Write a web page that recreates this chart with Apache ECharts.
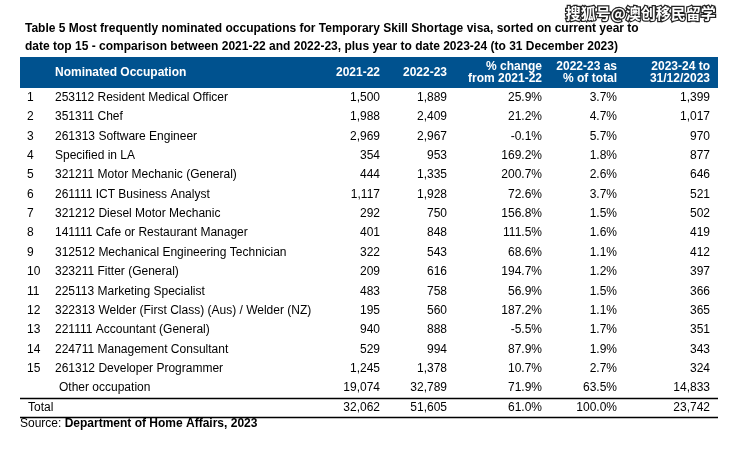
<!DOCTYPE html>
<html>
<head>
<meta charset="utf-8">
<script src="https://cdn.jsdelivr.net/npm/echarts@6/dist/echarts.min.js"></script>
<style>html,body{margin:0;padding:0;background:#fff;}#c{width:733px;height:459px;}</style>
</head>
<body>
<div id="c"></div>
<script>
const titleLines = [
  'Table 5 Most frequently nominated occupations for Temporary Skill Shortage visa, sorted on current year to',
  'date top 15 - comparison between 2021-22 and 2022-23, plus year to date 2023-24 (to 31 December 2023)'
];
const headers = ['Nominated Occupation', '2021-22', '2022-23', '% change\nfrom 2021-22', '2022-23 as\n% of total', '2023-24 to\n31/12/2023'];
const ranks = [1,2,3,4,5,6,7,8,9,10,11,12,13,14,15];
const occupations = [
  '253112 Resident Medical Officer',
  '351311 Chef',
  '261313 Software Engineer',
  'Specified in LA',
  '321211 Motor Mechanic (General)',
  '261111 ICT Business Analyst',
  '321212 Diesel Motor Mechanic',
  '141111 Cafe or Restaurant Manager',
  '312512 Mechanical Engineering Technician',
  '323211 Fitter (General)',
  '225113 Marketing Specialist',
  '322313 Welder (First Class) (Aus) / Welder (NZ)',
  '221111 Accountant (General)',
  '224711 Management Consultant',
  '261312 Developer Programmer'
];
const y2021_22 = [1500,1988,2969,354,444,1117,292,401,322,209,483,195,940,529,1245];
const y2022_23 = [1889,2409,2967,953,1335,1928,750,848,543,616,758,560,888,994,1378];
const pctChange = [25.9,21.2,-0.1,169.2,200.7,72.6,156.8,111.5,68.6,194.7,56.9,187.2,-5.5,87.9,10.7];
const pctOfTotal = [3.7,4.7,5.7,1.8,2.6,3.7,1.5,1.6,1.1,1.2,1.5,1.1,1.7,1.9,2.7];
const ytd2023_24 = [1399,1017,970,877,646,521,502,419,412,397,366,365,351,343,324];
const otherLabel = 'Other occupation';
const otherValues = [19074, 32789, 71.9, 63.5, 14833];
const totalLabel = 'Total';
const totalValues = [32062, 51605, 61.0, 100.0, 23742];
const sourceLabel = 'Source: ';
const sourceText = 'Department of Home Affairs, 2023';
const watermark = '搜狐号@澳创移民留学';

// layout (pixel positions along the hidden 0..733 x axis)
const COL = {rank: 27, name: 55, other: 59, total: 28, c1: 380, c2: 447, c3: 542, c4: 617, c5: 710};
const TABLE_L = 20, TABLE_R = 718;
const FONT = '"Liberation Sans", Arial, sans-serif';
const BLUE = '#00528F';

const fmtN = v => v.toLocaleString('en-US');
const fmtP = v => v.toFixed(1) + '%';

// Build row records
const rows = [];
for (let i = 0; i < ranks.length; i++) {
  rows.push({type: 'data', rank: String(ranks[i]), name: occupations[i],
    cells: [fmtN(y2021_22[i]), fmtN(y2022_23[i]), fmtP(pctChange[i]), fmtP(pctOfTotal[i]), fmtN(ytd2023_24[i])]});
}
rows.push({type: 'other', name: otherLabel,
  cells: [fmtN(otherValues[0]), fmtN(otherValues[1]), fmtP(otherValues[2]), fmtP(otherValues[3]), fmtN(otherValues[4])]});
rows.push({type: 'total', name: totalLabel,
  cells: [fmtN(totalValues[0]), fmtN(totalValues[1]), fmtP(totalValues[2]), fmtP(totalValues[3]), fmtN(totalValues[4])]});

const HEADER_TOP = -2.102;
const seriesData = [[-1]].concat(rows.map((r, i) => [i]));
const colKeys = ['c1','c2','c3','c4','c5'];

function txt(x, y, s, align, extra) {
  return {type: 'text', x: x, y: y, style: Object.assign({
    text: s, fill: '#000', font: '12px ' + FONT, textAlign: align || 'left', textVerticalAlign: 'middle'
  }, extra || {})};
}

function renderItem(params, api) {
  const i = api.value(0);
  const X = v => api.coord([v, 0])[0];
  const Y = v => api.coord([0, v])[1];
  const children = [];
  if (i === -1) {
    const top = Y(HEADER_TOP), bot = Y(-0.5);
    children.push({type: 'rect', shape: {x: X(TABLE_L), y: top, width: X(TABLE_R) - X(TABLE_L), height: bot - top}, style: {fill: BLUE}});
    const cy = (top + bot) / 2;
    const bold = {fill: '#fff', font: 'bold 12px ' + FONT, lineHeight: 12};
    children.push(txt(X(COL.name), cy, headers[0], 'left', bold));
    colKeys.forEach((k, j) => {
      children.push(txt(X(COL[k]), cy, headers[j + 1], 'right', bold));
    });
    return {type: 'group', children: children};
  }
  const r = rows[i];
  const cy = Y(i);
  if (r.type === 'data') {
    children.push(txt(X(COL.rank), cy, r.rank));
    children.push(txt(X(COL.name), cy, r.name));
  } else if (r.type === 'other') {
    children.push(txt(X(COL.other), cy, r.name));
  } else {
    children.push(txt(X(COL.total), cy, r.name));
    children.push({type: 'line', shape: {x1: X(TABLE_L), y1: Math.round(Y(i - 0.5)) + 0.5, x2: X(TABLE_R), y2: Math.round(Y(i - 0.5)) + 0.5}, style: {stroke: '#000', lineWidth: 1.3}});
    children.push({type: 'line', shape: {x1: X(TABLE_L), y1: Math.round(Y(i + 0.5)) + 0.5, x2: X(TABLE_R), y2: Math.round(Y(i + 0.5)) + 0.5}, style: {stroke: '#000', lineWidth: 1.3}});
  }
  r.cells.forEach((s, j) => children.push(txt(X(COL[colKeys[j]]), cy, s, 'right')));
  return {type: 'group', children: children};
}

const chart = echarts.init(document.getElementById('c'), null, {renderer: 'canvas'});
chart.setOption({
  animation: false,
  backgroundColor: '#fff',
  title: {
    text: titleLines.join('\n'), left: 20, top: 15,
    textStyle: {fontFamily: FONT, fontWeight: 'bold', fontSize: 12, color: '#000', lineHeight: 18}
  },
  grid: {left: 0, right: 0, top: 57, height: 360, containLabel: false},
  xAxis: {type: 'value', min: 0, max: 733, show: false},
  yAxis: {type: 'value', inverse: true, min: HEADER_TOP, max: 16.5, show: false},
  series: [{
    type: 'custom', renderItem: renderItem, data: seriesData, silent: true,
    encode: {x: -1, y: 0}
  }],
  graphic: [
    {type: 'text', left: 20, top: 418, style: {
      text: '{n|' + sourceLabel + '}{b|' + sourceText + '}',
      rich: {n: {font: '12px ' + FONT, fill: '#000'}, b: {font: 'bold 12px ' + FONT, fill: '#000'}}
    }},
    {type: 'text', right: 16, top: 5, z: 100, style: {
      text: watermark, font: 'bold 15px "Noto Sans CJK SC"', fill: '#fff', stroke: '#222', lineWidth: 2.5
    }}
  ]
});
</script>
</body>
</html>
